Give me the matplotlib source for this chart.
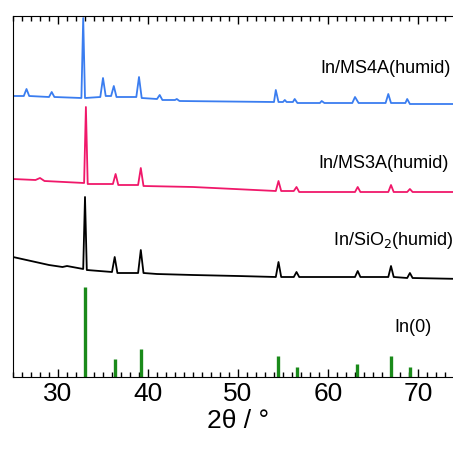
import matplotlib
matplotlib.use("Agg")
from matplotlib import pyplot as plt
from matplotlib.ticker import MultipleLocator

plt.rcParams['font.family'] = ['Liberation Sans', 'DejaVu Sans']

# traces: 2theta and height (pixels above the bottom axis)
ms4a_x = [25, 26.2, 26.5, 26.8, 29.0, 29.3, 29.6, 32.6, 32.8, 33.0, 34.7, 35.0, 35.3, 35.9, 36.2, 36.5,
          38.7, 39.0, 39.3, 41.0, 41.3, 41.6, 43.0, 43.2, 43.5, 54.0, 54.2, 54.5, 55.0, 55.2, 55.4,
          56.1, 56.3, 56.6, 59.1, 59.3, 59.6, 62.7, 63.0, 63.4, 66.4, 66.7, 67.0, 68.6, 68.8, 69.1, 75]
ms4a_y = [281, 281, 288, 281, 280, 285, 280, 279, 359, 279, 280, 299, 281, 281, 291, 280,
          280, 300, 279, 278, 282, 277, 277, 278, 276, 275, 287, 275, 275, 277, 275,
          275, 278, 274, 274, 276, 274, 274, 280, 274, 274, 283, 274, 274, 278, 273, 273]

ms3a_x = [25, 27.5, 28.0, 28.5, 32.9, 33.1, 33.3, 36.1, 36.4, 36.7, 38.9, 39.2, 39.5, 45, 54.2, 54.5, 54.8,
          56.2, 56.5, 56.8, 63.0, 63.3, 63.6, 66.7, 67.0, 67.3, 68.8, 69.1, 69.4, 75]
ms3a_y = [198, 197, 199, 196, 194, 270, 193, 193, 203, 192, 192, 209, 191, 190, 186, 196, 186,
          186, 190, 185, 185, 190, 185, 185, 192, 185, 185, 188, 185, 185]

sio2_x = [25, 27, 29, 30.5, 31, 32.8, 33.0, 33.2, 36.0, 36.3, 36.6, 38.9, 39.2, 39.5, 41, 45, 50,
          54.2, 54.5, 54.8, 56.2, 56.5, 56.8, 63.0, 63.3, 63.6, 66.7, 67.0, 67.3, 68.8, 69.1, 69.4, 75]
sio2_y = [120, 116, 112, 110, 111, 108, 180, 107, 105, 120, 104, 104, 127, 104, 103, 102, 101,
          100, 115, 100, 100, 105, 100, 100, 106, 100, 100, 111, 100, 99, 104, 99, 98]

# In(0) reference pattern
in0_pos = [33.0, 36.3, 39.2, 54.4, 56.6, 63.2, 67.0, 69.1]
in0_int = [90, 18, 28, 21, 10, 13, 21, 10]

labels = ["In/MS4A(humid)", "In/MS3A(humid)", "In/SiO$_2$(humid)", "In(0)"]

fig = plt.figure(figsize=(4.53, 4.55), dpi=100)
ax = fig.add_axes([13/453, 78/455, 450/453, 361/455])

ax.plot(ms4a_x, ms4a_y, color="#3a7df0", linewidth=1.3)
ax.plot(ms3a_x, ms3a_y, color="#f0186a", linewidth=1.3)
ax.plot(sio2_x, sio2_y, color="black", linewidth=1.3)
ax.vlines(in0_pos, 0, in0_int, color="#1a8a1a", linewidth=2.4)

ax.text(59.1, 309, labels[0], fontsize=13, va="center", clip_on=False)
ax.text(58.9, 214, labels[1], fontsize=13, va="center")
ax.text(60.6, 137, labels[2], fontsize=13, va="center")
ax.text(67.4, 50, labels[3], fontsize=13, va="center")

ax.set_xlim(25, 75)
ax.set_ylim(0, 361)
ax.set_yticks([])
ax.xaxis.set_major_locator(MultipleLocator(10))
ax.xaxis.set_minor_locator(MultipleLocator(1))
ax.tick_params(axis="x", which="both", direction="in", top=True, labelsize=19, width=1)
ax.tick_params(axis="x", which="major", length=6)
ax.tick_params(axis="x", which="minor", length=3.5)
ax.set_xlabel("2θ / °", fontsize=19, labelpad=2)

plt.savefig("out.png", dpi=100)
